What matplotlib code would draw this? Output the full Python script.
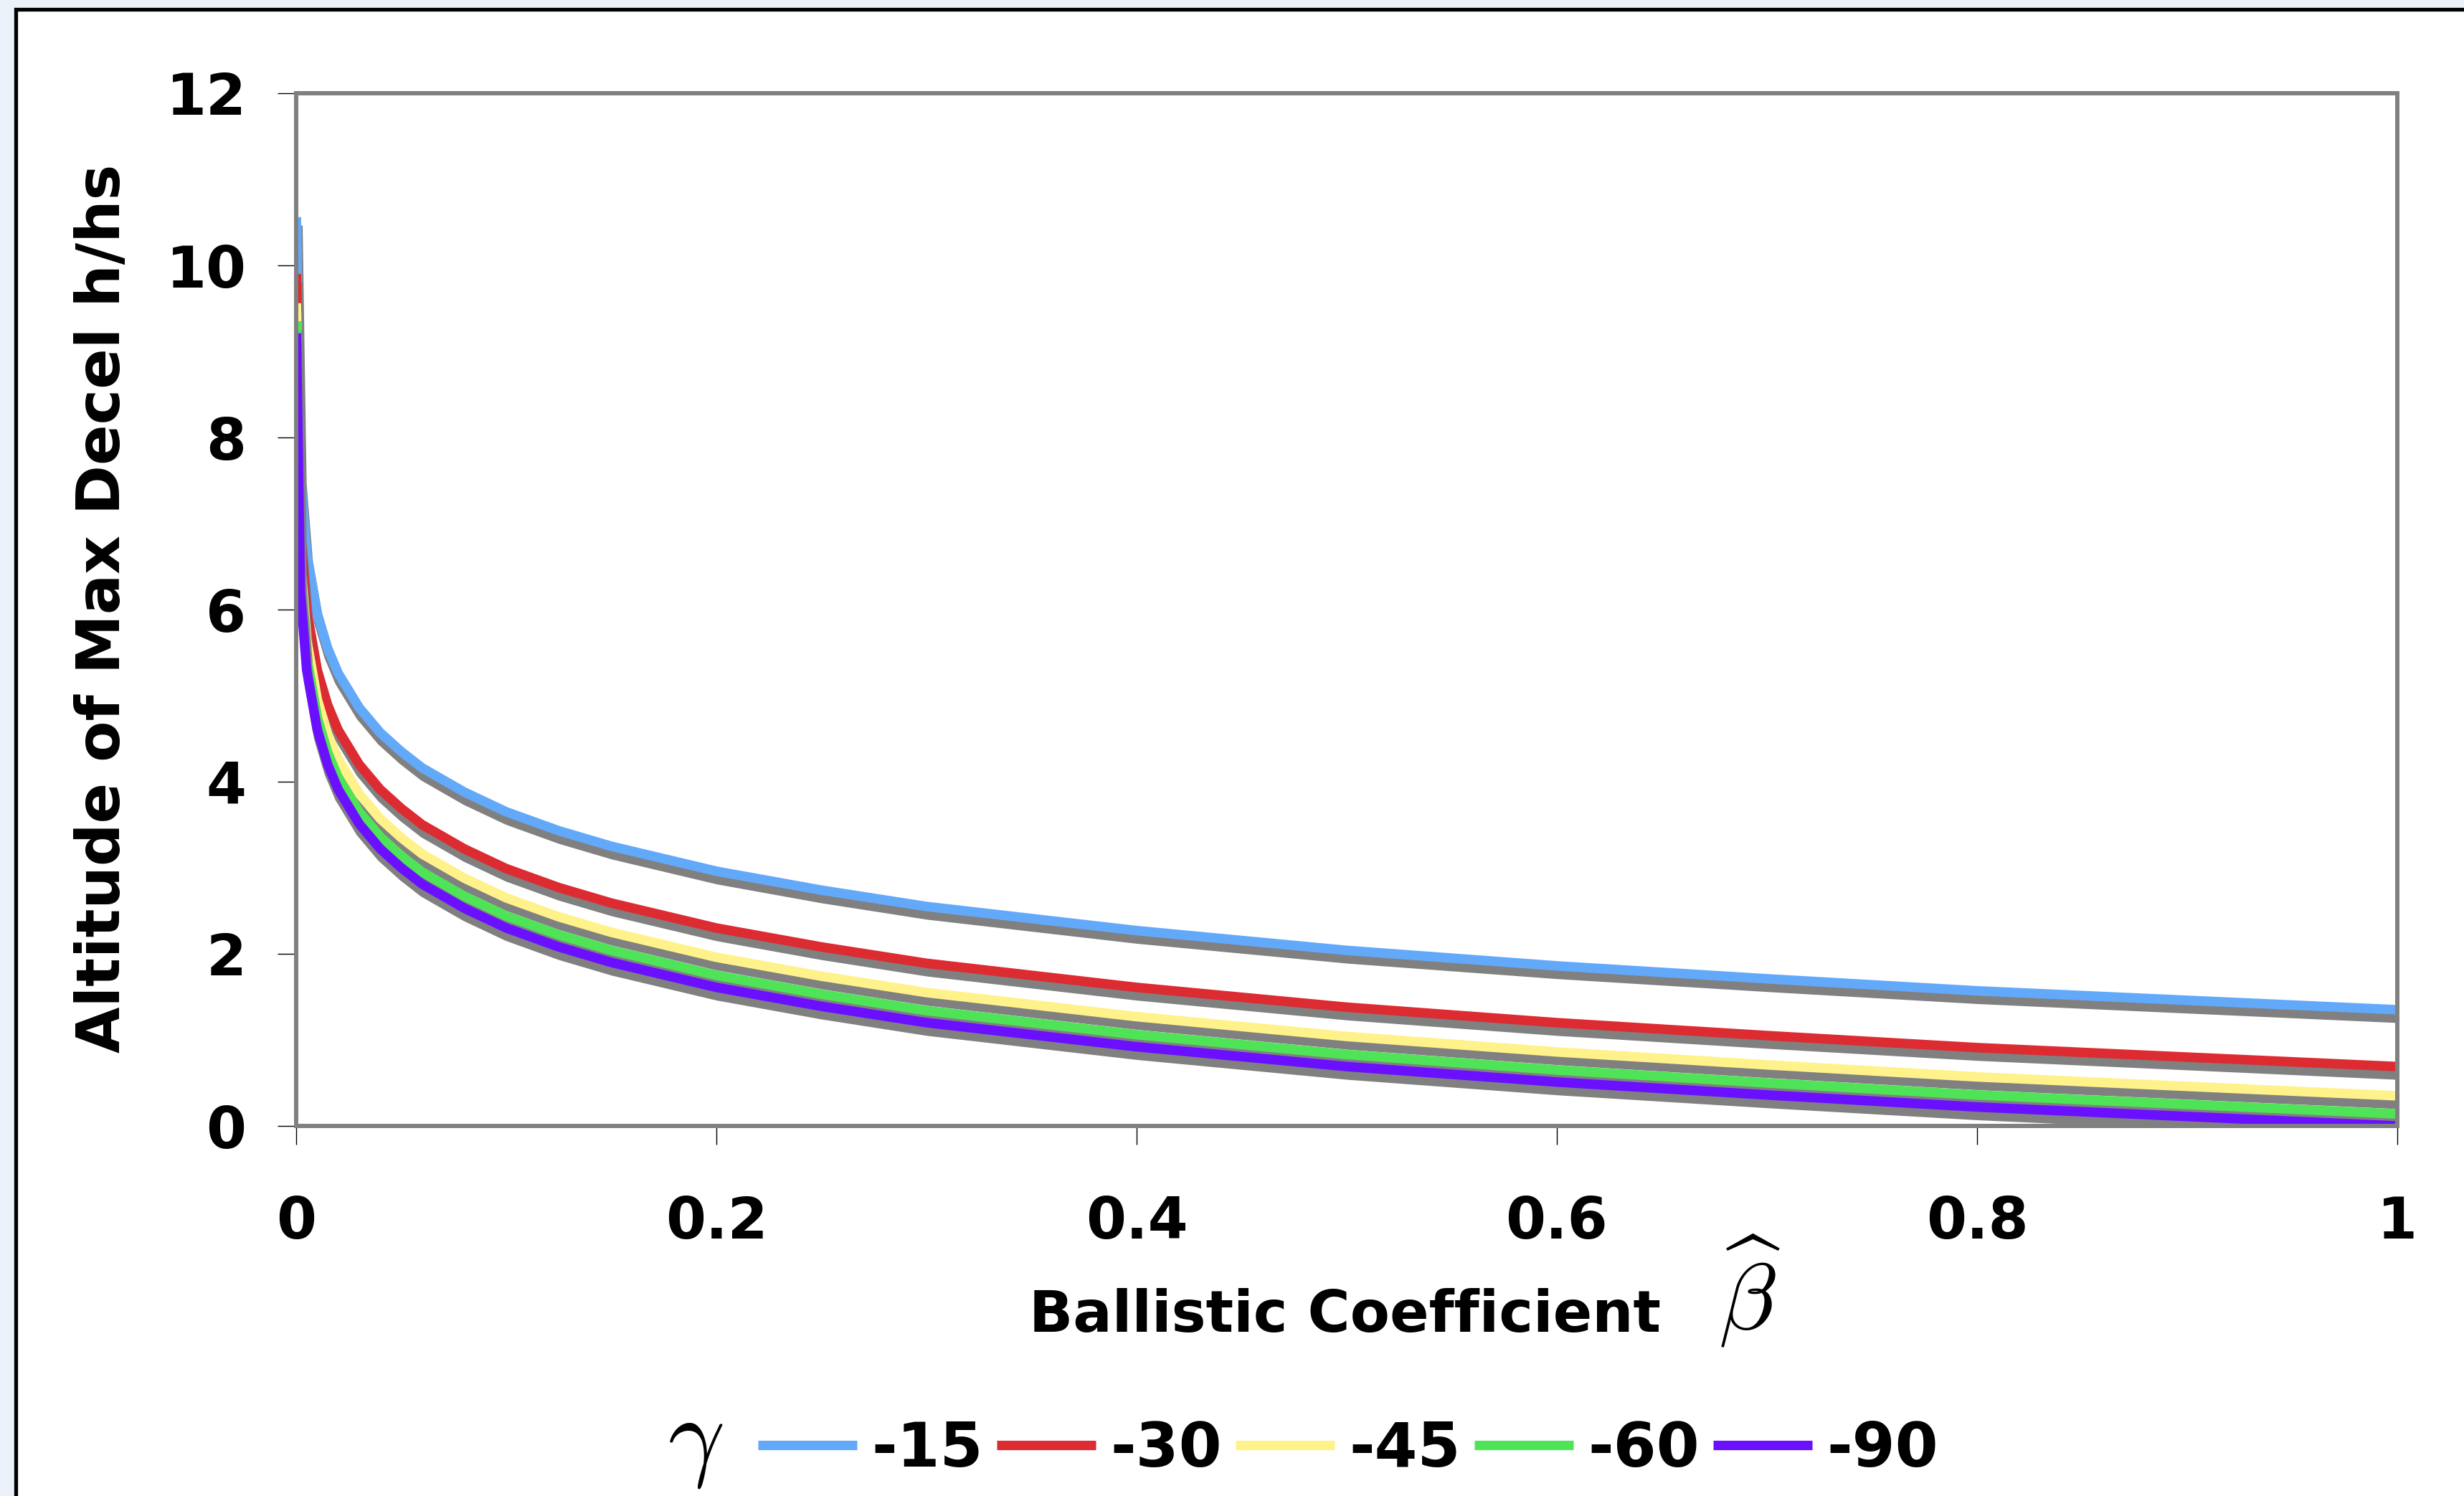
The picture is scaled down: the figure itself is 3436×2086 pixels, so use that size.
import matplotlib
matplotlib.use("Agg")
import matplotlib.pyplot as plt
import matplotlib.patheffects as pe
from matplotlib.lines import Line2D
from matplotlib.patches import Rectangle

plt.rcParams["font.family"] = ["DejaVu Sans"]
plt.rcParams["font.weight"] = "bold"
plt.rcParams["mathtext.fontset"] = "cm"

# ballistic coefficient (x) and altitude of max decel h/hs
beta = [0.0001, 0.002, 0.005, 0.01, 0.015, 0.02, 0.03, 0.04, 0.05, 0.06, 0.08,
        0.1, 0.125, 0.15, 0.2, 0.25, 0.3, 0.4, 0.5, 0.6, 0.7, 0.8, 0.9, 1.0]
h_15 = [10.56, 7.56, 6.65, 5.96, 5.55, 5.26, 4.86, 4.57, 4.35, 4.16, 3.88,
        3.65, 3.43, 3.25, 2.96, 2.74, 2.55, 2.27, 2.04, 1.86, 1.71, 1.57, 1.46, 1.35]
h_30 = [9.90, 6.90, 5.99, 5.30, 4.89, 4.60, 4.20, 3.91, 3.69, 3.50, 3.22,
        2.99, 2.77, 2.59, 2.30, 2.08, 1.89, 1.61, 1.38, 1.20, 1.05, 0.91, 0.80, 0.69]
h_45 = [9.56, 6.56, 5.65, 4.96, 4.55, 4.26, 3.86, 3.57, 3.35, 3.16, 2.88,
        2.65, 2.43, 2.25, 1.96, 1.74, 1.55, 1.27, 1.04, 0.86, 0.71, 0.57, 0.46, 0.35]
h_60 = [9.35, 6.35, 5.44, 4.75, 4.34, 4.05, 3.65, 3.36, 3.14, 2.95, 2.67,
        2.44, 2.22, 2.04, 1.75, 1.53, 1.34, 1.06, 0.83, 0.65, 0.50, 0.36, 0.25, 0.14]
h_90 = [9.21, 6.21, 5.30, 4.61, 4.20, 3.91, 3.51, 3.22, 3.00, 2.81, 2.53,
        2.30, 2.08, 1.90, 1.61, 1.39, 1.20, 0.92, 0.69, 0.51, 0.36, 0.22, 0.11, 0.00]

gammas = ["-15", "-30", "-45", "-60", "-90"]
series = [h_15, h_30, h_45, h_60, h_90]
colors = ["#63A9FA", "#DD2B32", "#FFF28A", "#4FE358", "#6A10FF"]

xticks = [0, 0.2, 0.4, 0.6, 0.8, 1]
xticklabels = ["0", "0.2", "0.4", "0.6", "0.8", "1"]
yticks = [0, 2, 4, 6, 8, 10, 12]

W, H = 3437, 2086
fig = plt.figure(figsize=(W / 100, H / 100), dpi=100, facecolor="#EAF1F8")

# slide frame (behind everything)
fig.patches.append(Rectangle((22 / W, -0.05), 1.1, 1.05 - 13 / H,
                             transform=fig.transFigure, facecolor="white",
                             edgecolor="black", lw=3.8, zorder=-5))

ax = fig.add_axes([413 / W, 1 - 1570 / H, (3343 - 413) / W, (1570 - 130) / H])
ax.set_facecolor("white")

# Excel-style drop shadow under each series
shadow = [pe.SimpleLineShadow(offset=(1.5, -8.5), shadow_color="#808080", alpha=1.0),
          pe.Normal()]
for h, c in zip(series, colors):
    ax.plot(beta, h, color=c, lw=9.6, solid_joinstyle="miter",
            solid_capstyle="butt", path_effects=shadow)

ax.set_xlim(0, 1)
ax.set_ylim(0, 12)
ax.set_xticks(xticks)
ax.set_xticklabels(xticklabels)
ax.set_yticks(yticks)
for s in ax.spines.values():
    s.set_color("#808080")
    s.set_linewidth(4.3)
ax.tick_params(axis="both", direction="out", length=19, width=1.0,
               color="black", labelsize=58)
ax.tick_params(axis="y", pad=31)
ax.tick_params(axis="x", pad=50)
for lab in ax.get_xticklabels() + ax.get_yticklabels():
    lab.set_fontweight("bold")

fig.text(144 / W, 1 - 848 / H, "Altitude of Max Decel h/hs", rotation=90,
         ha="center", va="center", fontsize=60, fontweight="bold")
fig.text(1876 / W, 1 - 1835 / H, "Ballistic Coefficient",
         ha="center", va="center", fontsize=58, fontweight="bold")
fig.text(2440 / W, 1 - 1800 / H, r"$\widehat{\beta}$",
         ha="center", va="center", fontsize=95)

fig.text(970 / W, 1 - 2010 / H, r"$\gamma$", ha="center", va="center", fontsize=100)
handles = [Line2D([], [], color=c, lw=9.5, solid_capstyle="butt") for c in colors]
fig.legend(handles, gammas, ncol=5, loc="center",
           bbox_to_anchor=(1880 / W, 1 - 2022 / H), frameon=False,
           prop={"size": 62, "weight": "bold"}, handlelength=1.6,
           handletextpad=0.24, columnspacing=0.22, borderpad=0, borderaxespad=0)

fig.savefig("out.png", dpi=100, facecolor=fig.get_facecolor())
